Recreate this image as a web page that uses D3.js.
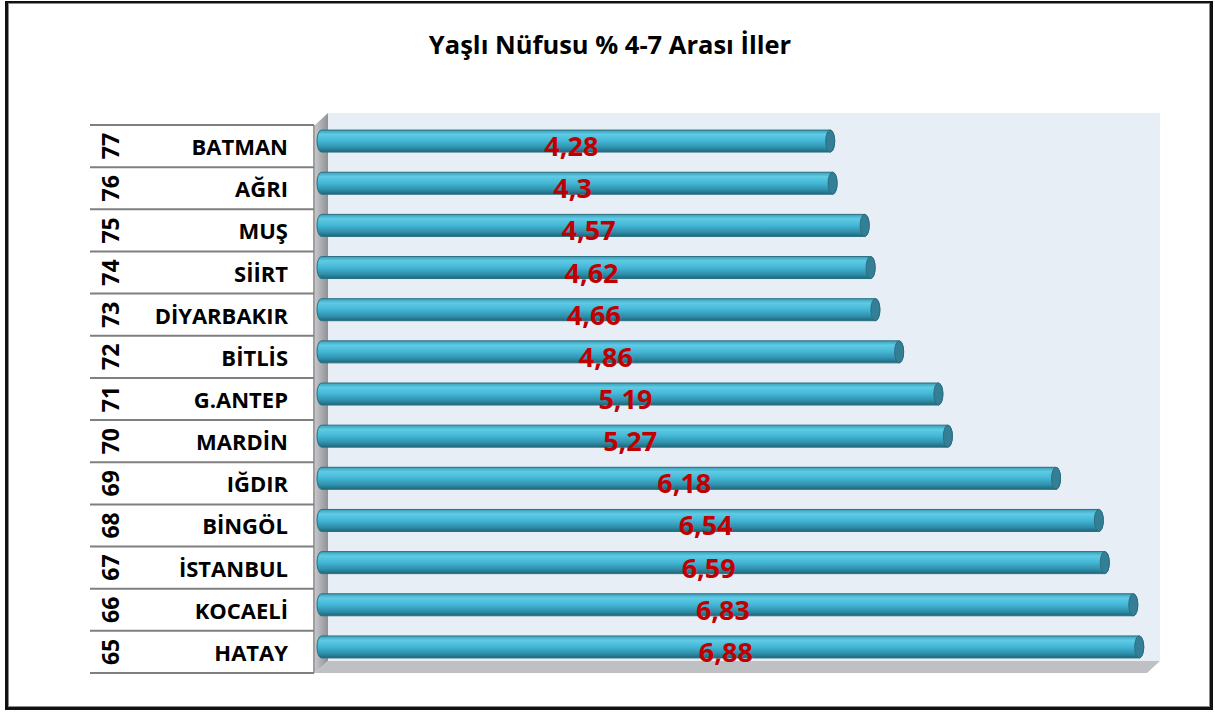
<!DOCTYPE html>
<html lang="tr">

<head>
    <meta charset="UTF-8">
    <title>Yaşlı Nüfusu</title>
    <script src="https://cdn.jsdelivr.net/npm/d3@7"></script>
    <style>
        body { margin: 0; background: #fff; }
        text { font-family: "Open Sans", "Noto Sans", sans-serif; }
    </style>
</head>

<body>
    <svg id="main" width="1215" height="712"></svg>
    <script>
        // data, top row first
        const ranks = [77, 76, 75, 74, 73, 72, 71, 70, 69, 68, 67, 66, 65];
        const cities = ['BATMAN', 'AĞRI', 'MUŞ', 'SİİRT', 'DİYARBAKIR', 'BİTLİS', 'G.ANTEP',
            'MARDİN', 'IĞDIR', 'BİNGÖL', 'İSTANBUL', 'KOCAELİ', 'HATAY'];
        const values = [4.28, 4.3, 4.57, 4.62, 4.66, 4.86, 5.19, 5.27, 6.18, 6.54, 6.59, 6.83, 6.88];
        const titleText = 'Yaşlı Nüfusu % 4-7 Arası İller';

        const svg = d3.select('#main');
        const defs = svg.append('defs');

        // outer frame
        svg.append('rect').attr('x', 6.5).attr('y', 2.5).attr('width', 1205).attr('height', 706)
            .attr('fill', '#fff').attr('stroke', '#111').attr('stroke-width', 3);
        svg.append('rect').attr('x', 8.5).attr('y', 3.5).attr('width', 1201).attr('height', 703)
            .attr('fill', 'none').attr('stroke', '#8c8c8c').attr('stroke-width', 1);

        svg.append('text').attr('x', 610).attr('y', 54).attr('text-anchor', 'middle')
            .attr('font-size', 25.5).attr('font-weight', 'bold').attr('fill', '#000')
            .text(titleText);

        const x = d3.scaleLinear().domain([0, 7]).range([315, 1147]);
        const y = d3.scaleBand().domain(cities).range([125, 673]);
        const dx = 13, dy = -12;
        const x0 = x(0), x1 = x(7), yTop = y.range()[0], yBot = y.range()[1];

        // 3d walls
        const sideGrad = defs.append('linearGradient').attr('id', 'side').attr('x1', 0).attr('x2', 1);
        sideGrad.append('stop').attr('offset', 0).attr('stop-color', '#c4c6c9');
        sideGrad.append('stop').attr('offset', 1).attr('stop-color', '#8f9194');

        svg.append('rect').attr('x', x0 + dx).attr('y', yTop + dy)
            .attr('width', x1 - x0).attr('height', yBot - yTop)
            .attr('fill', '#e8eef5');
        svg.append('path')
            .attr('d', `M${x0},${yTop} L${x0 + dx},${yTop + dy} L${x0 + dx},${yBot + dy} L${x0},${yBot} Z`)
            .attr('fill', 'url(#side)');
        svg.append('path')
            .attr('d', `M${x0},${yBot} L${x0 + dx},${yBot + dy} L${x1 + dx},${yBot + dy} L${x1},${yBot} Z`)
            .attr('fill', '#bec0c3');

        // label table
        const tbl = svg.append('g');
        tbl.selectAll('line.row').data(d3.range(cities.length + 1)).join('line')
            .attr('class', 'row')
            .attr('x1', 90).attr('x2', x0 - 1)
            .attr('y1', i => yTop + i * y.bandwidth()).attr('y2', i => yTop + i * y.bandwidth())
            .attr('stroke', '#7f7f7f').attr('stroke-width', 2);
        tbl.append('line').attr('x1', x0 - 1).attr('x2', x0 - 1).attr('y1', yTop).attr('y2', yBot)
            .attr('stroke', '#7f7f7f').attr('stroke-width', 1.5);

        tbl.selectAll('text.rank').data(cities).join('text')
            .attr('class', 'rank')
            .attr('transform', (d, i) => `translate(119,${y(d) + y.bandwidth() / 2}) rotate(-90)`)
            .attr('text-anchor', 'middle')
            .attr('font-size', 23).attr('font-weight', 'bold')
            .text((d, i) => ranks[i]);

        tbl.selectAll('text.city').data(cities).join('text')
            .attr('class', 'city')
            .attr('x', 288).attr('y', d => y(d) + y.bandwidth() / 2 + 9)
            .attr('text-anchor', 'end')
            .attr('font-size', 22).attr('font-weight', 'bold')
            .text(d => d);

        // cylinder bars
        const barGrad = defs.append('linearGradient').attr('id', 'bar').attr('x1', 0).attr('x2', 0).attr('y1', 0).attr('y2', 1);
        [[0, '#3a9fbb'], [0.2, '#5fcbe4'], [0.5, '#43b6d6'], [0.8, '#2f8fab'], [1, '#1f6679']]
            .forEach(s => barGrad.append('stop').attr('offset', s[0]).attr('stop-color', s[1]));

        const bh = 22, rx = 4.5;
        const bars = svg.append('g').selectAll('g').data(cities).join('g');
        bars.append('path')
            .attr('d', (d, i) => {
                const cy = y(d) + y.bandwidth() / 2 - 5;
                const a = x0 + dx / 2, b = x(values[i]) + dx / 2;
                return `M${a},${cy - bh / 2} L${b},${cy - bh / 2} A${rx},${bh / 2} 0 0 1 ${b},${cy + bh / 2}` +
                    ` L${a},${cy + bh / 2} A${rx},${bh / 2} 0 0 1 ${a},${cy - bh / 2} Z`;
            })
            .attr('fill', 'url(#bar)').attr('stroke', '#2a6f82').attr('stroke-width', 1);
        bars.append('ellipse')
            .attr('cx', (d, i) => x(values[i]) + dx / 2)
            .attr('cy', d => y(d) + y.bandwidth() / 2 - 5)
            .attr('rx', rx).attr('ry', bh / 2)
            .attr('fill', '#347f95').attr('stroke', '#2a6f82').attr('stroke-width', 1);

        // value labels
        svg.append('g').selectAll('text').data(cities).join('text')
            .attr('x', (d, i) => (x0 + x(values[i])) / 2 + 2)
            .attr('y', d => y(d) + y.bandwidth() / 2 + 10)
            .attr('text-anchor', 'middle')
            .attr('font-size', 27).attr('font-weight', 'bold').attr('fill', '#c00000')
            .text((d, i) => String(values[i]).replace('.', ','));
    </script>
</body>

</html>
